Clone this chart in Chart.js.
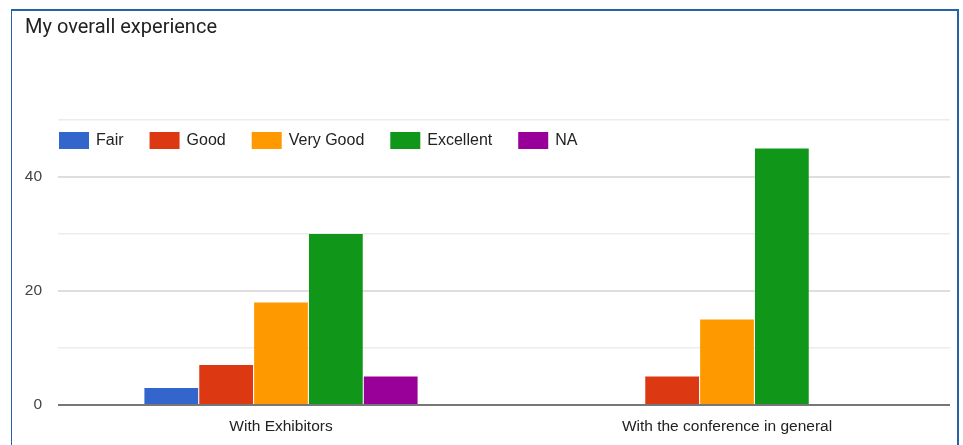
<!DOCTYPE html>
<html>
<head>
<meta charset="utf-8">
<script src="https://cdn.jsdelivr.net/npm/chart.js@4/dist/chart.umd.min.js"></script>
<style>
  html, body { margin: 0; padding: 0; background: #fff; }
  #wrap { position: relative; width: 963px; height: 445px; overflow: hidden; }
  canvas { position: absolute; left: 0; top: 0; }
  #frame { position: absolute; left: 11px; top: 9px; width: 945px; height: 460px;
           border-top: 2px solid #2563a8; border-left: 1.5px solid #2563a8; border-right: 2px solid #2563a8;
           pointer-events: none; }
</style>
</head>
<body>
<div id="wrap">
  <canvas id="c" width="963" height="445"></canvas>
  <div id="frame"></div>
</div>
<script>
const chartTitle = "My overall experience";
const categories = ["With Exhibitors", "With the conference in general"];
const seriesNames = ["Fair", "Good", "Very Good", "Excellent", "NA"];
const seriesColors = ["#3366cc", "#dc3912", "#ff9900", "#109618", "#990099"];
const fairValues = [3, 0];
const goodValues = [7, 5];
const veryGoodValues = [18, 15];
const excellentValues = [30, 45];
const naValues = [5, 0];
const yTickLabels = [0, 20, 40];
const yMax = 50;

const seriesValues = [fairValues, goodValues, veryGoodValues, excellentValues, naValues];

const insideLegend = {
  id: 'insideLegend',
  afterDraw(chart) {
    const ctx = chart.ctx;
    const area = chart.chartArea;
    ctx.save();
    ctx.font = '16px "Liberation Sans", Arial, sans-serif';
    ctx.textBaseline = 'middle';
    ctx.textAlign = 'left';
    let x = area.left + 1;
    const yTop = area.top + 12;
    const bw = 30, bh = 17;
    chart.data.datasets.forEach(ds => {
      ctx.fillStyle = ds.backgroundColor;
      ctx.fillRect(x, yTop, bw, bh);
      ctx.fillStyle = '#222';
      const tx = x + bw + 7;
      ctx.fillText(ds.label, tx, yTop + bh / 2 + 0.5);
      x = tx + ctx.measureText(ds.label).width + 26;
    });
    ctx.restore();
  }
};

new Chart(document.getElementById('c'), {
  type: 'bar',
  data: {
    labels: categories,
    datasets: seriesNames.map((n, i) => ({
      label: n,
      data: seriesValues[i],
      backgroundColor: seriesColors[i],
      borderWidth: 0,
      categoryPercentage: 0.615,
      barPercentage: 0.98
    }))
  },
  options: {
    responsive: false,
    animation: false,
    devicePixelRatio: 1,
    layout: { padding: { left: 25, right: 13, top: 0, bottom: 11 } },
    plugins: {
      legend: { display: false },
      tooltip: { enabled: false },
      title: {
        display: true,
        text: chartTitle,
        align: 'start',
        color: '#222',
        font: { family: 'Roboto, "Liberation Sans", Arial', size: 20, weight: 'normal' },
        padding: { top: 16, bottom: 80 }
      }
    },
    scales: {
      x: {
        afterFit(scale) { scale.height = 29; },
        grid: { display: false, drawTicks: false },
        border: { display: false },
        ticks: {
          color: '#222',
          padding: 12,
          font: { family: '"Liberation Sans", Arial, sans-serif', size: 15.5 }
        }
      },
      y: {
        min: 0,
        max: yMax,
        afterFit(scale) { scale.width = 33; },
        border: { display: false },
        grid: {
          drawTicks: false,
          color: c => c.tick.value === 0 ? '#777' : (c.tick.value % 20 === 0 ? '#dedede' : '#ececec'),
          lineWidth: c => c.tick.value === 0 ? 2 : (c.tick.value % 20 === 0 ? 2 : 1.5)
        },
        ticks: {
          stepSize: 10,
          padding: 16,
          color: '#444',
          font: { family: '"Liberation Sans", Arial, sans-serif', size: 15.5 },
          callback: v => yTickLabels.includes(v) ? String(v) : ''
        }
      }
    }
  },
  plugins: [insideLegend]
});
</script>
</body>
</html>
